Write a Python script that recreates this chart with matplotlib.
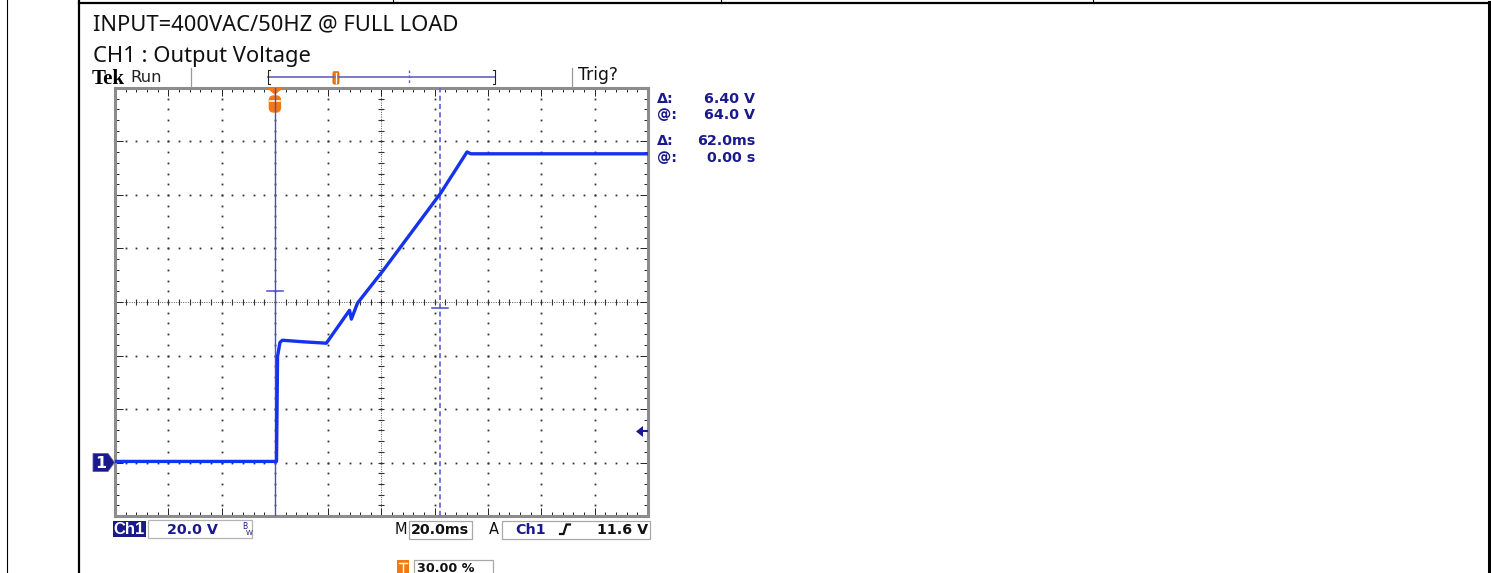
import numpy as np
import matplotlib
matplotlib.use("Agg")
import matplotlib.pyplot as plt
from matplotlib.patches import Rectangle, Polygon, FancyBboxPatch
from matplotlib.ticker import MultipleLocator

W, H, DPI = 1491, 573, 100

# Test conditions and scope settings
title_lines = ["INPUT=400VAC/50HZ @ FULL LOAD", "CH1 : Output Voltage"]
volts_per_div = 20.0        # V / div
time_per_div = 20.0         # ms / div
h_divs, v_divs = 10, 8
trigger_pos_pct = 30.0      # % of record before trigger
ground_div = -3.0           # channel 1 ground, divisions from centre
trigger_level = 11.6        # V
cursor_t = [0.0, 62.0]      # ms
cursor_v = [64.0, 57.6]     # V

# Channel 1 output voltage trace
trace_t = [-60.0, 0.6, 1.0, 1.9, 2.8, 11.0, 19.3, 28.0, 28.7, 31.0, 40.4, 62.2, 72.1, 73.5, 140.0]
trace_v = [0.4, 0.4, 39.7, 44.9, 45.7, 45.1, 44.6, 56.9, 53.6, 59.6, 71.5, 100.7, 116.1, 115.4, 115.4]

# Colours
TRACE = "#1532ec"
CURSOR = "#4a4ad2"
CURSOR2 = "#6a6ad8"
NAVY = "#1a1a8c"
ORANGE = "#f07a10"

fig = plt.figure(figsize=(W / DPI, H / DPI), dpi=DPI)
fig.patch.set_facecolor("white")

# graticule box in pixels
L, T, R, B = 115, 88, 648, 516
tmin = -trigger_pos_pct / 100 * h_divs * time_per_div
tmax = tmin + h_divs * time_per_div
vmin = (-v_divs / 2 - ground_div) * volts_per_div
vmax = vmin + v_divs * volts_per_div


def t2x(t):
    return L + (t - tmin) / (tmax - tmin) * (R - L)


def v2y(v):
    return T + (vmax - v) / (vmax - vmin) * (B - T)


def x2t(x):
    return tmin + (x - L) / (R - L) * (tmax - tmin)


def y2v(y):
    return vmax - (y - T) / (B - T) * (vmax - vmin)


ax = fig.add_axes([L / W, 1 - B / H, (R - L) / W, (B - T) / H])
ax.set_zorder(1)
ax.set_xlim(tmin, tmax)
ax.set_ylim(vmin, vmax)
for s in ax.spines.values():
    s.set_color("#8c8c8c")
    s.set_linewidth(2.2)
ax.xaxis.set_major_locator(MultipleLocator(time_per_div))
ax.xaxis.set_minor_locator(MultipleLocator(time_per_div / 5))
ax.yaxis.set_major_locator(MultipleLocator(volts_per_div))
ax.yaxis.set_minor_locator(MultipleLocator(volts_per_div / 5))
ax.tick_params(which="both", direction="in", top=True, right=True,
               labelbottom=False, labelleft=False, color="#222", width=0.7)
ax.tick_params(which="major", length=5.5)
ax.tick_params(which="minor", length=3)

# dotted graticule
major_t = np.arange(tmin, tmax + 1e-9, time_per_div)[1:-1]
major_v = np.arange(vmin, vmax + 1e-9, volts_per_div)[1:-1]
minor_t = np.arange(tmin, tmax + 1e-9, time_per_div / 5)[1:-1]
minor_v = np.arange(vmin, vmax + 1e-9, volts_per_div / 5)[1:-1]
t_c = (tmin + tmax) / 2
v_c = (vmin + vmax) / 2
for tk in major_t:
    if abs(tk - t_c) > 1e-6:
        ax.plot(np.full_like(minor_v, tk), minor_v, ls="none", marker="s",
                ms=1.3, mew=0, color="#333", zorder=1)
for vk in major_v:
    if abs(vk - v_c) > 1e-6:
        ax.plot(minor_t, np.full_like(minor_t, vk), ls="none", marker="s",
                ms=1.3, mew=0, color="#333", zorder=1)

# centre cross-hair with sub-division ticks
ax.plot([t_c, t_c], [vmin, vmax], ls=(0, (1, 1.4)), lw=0.7, color="#555", zorder=1)
ax.plot([tmin, tmax], [v_c, v_c], ls=(0, (1, 1.4)), lw=0.7, color="#555", zorder=1)
ax.plot(np.full_like(minor_v, t_c), minor_v, ls="none", marker="_", ms=4.5,
        mew=0.8, color="#333", zorder=1)
ax.plot(minor_t, np.full_like(minor_t, v_c), ls="none", marker="|", ms=4.5,
        mew=0.8, color="#333", zorder=1)

# trigger position marker at the top of the graticule
tx = t2x(0.0)
tri = [(x2t(tx - 7), y2v(88)), (x2t(tx + 7), y2v(88)), (x2t(tx), y2v(94))]
ax.add_patch(Polygon(tri, closed=True, color=ORANGE, clip_on=False, zorder=3))
ax.add_patch(FancyBboxPatch((x2t(tx - 5.5), y2v(112)), x2t(tx + 5.5) - x2t(tx - 5.5),
                            y2v(96) - y2v(112),
                            boxstyle="round,pad=0,rounding_size=1.6",
                            color=ORANGE, clip_on=False, zorder=3))
ax.plot([x2t(tx - 5), x2t(tx + 5)], [y2v(100.5)] * 2, color="white", lw=1.2, zorder=3.5)

# cursors
ax.axvline(cursor_t[0], color=CURSOR, lw=1.0, zorder=4)
ax.axvline(cursor_t[1], color=CURSOR2, lw=1.3, ls=(0, (2.8, 1.8)), zorder=4)
half = x2t(L + 8) - x2t(L)
for ct, cv in zip(cursor_t, cursor_v):
    ax.plot([ct - half, ct + half], [cv, cv], color=CURSOR, lw=1.1, zorder=4)

# waveform
ax.plot(trace_t, trace_v, color=TRACE, lw=2.4, solid_joinstyle="round", zorder=5)

# ---- screen furniture around the graticule ----
ov = fig.add_axes([0, 0, 1, 1])
ov.set_xlim(0, W)
ov.set_ylim(H, 0)
ov.axis("off")
ov.set_zorder(2)

# document table borders
ov.plot([7, 7], [0, H], color="black", lw=0.8)
ov.plot([79, 79], [0, H], color="black", lw=1.6)
ov.plot([79, 1490], [2.5, 2.5], color="black", lw=1.6)
for xs in (393, 721, 1093):
    ov.plot([xs, xs], [0, 3], color="black", lw=0.8)
ov.plot([1489, 1489], [2, H], color="black", lw=2.2)

# heading text
sans = ["Noto Sans", "DejaVu Sans"]
ov.text(93, 30, title_lines[0], family=sans, fontsize=15.8, color="#111", va="baseline")
ov.text(93, 62, title_lines[1], family=sans, fontsize=15.8, color="#111", va="baseline")

# status bar
ov.text(92, 83.5, "Tek", family="Liberation Serif", weight="bold", fontsize=15,
        color="black", va="baseline")
ov.text(130, 82, "Run", family="DejaVu Sans", fontsize=11.8, color="#222", va="baseline")
ov.plot([191, 191], [68, 87], color="#999", lw=0.9)
ov.plot([572, 572], [68, 87], color="#999", lw=0.9)
ov.text(578, 80.5, "Trig?", family="DejaVu Sans", fontsize=12.3, color="#111", va="baseline")

# record view bracket
ov.plot([268, 495], [77, 77], color="#6262c8", lw=1.2)
ov.plot([270, 268, 268, 270], [70, 70, 84, 84], color="#222", lw=0.8)
ov.plot([493, 495, 495, 493], [70, 70, 84, 84], color="#222", lw=0.8)
ov.plot([409, 409], [70, 84], color="#6262c8", lw=1.0, ls=(0, (2, 1.5)))
ov.add_patch(FancyBboxPatch((333, 72), 6, 12, boxstyle="round,pad=0,rounding_size=1.5",
                            facecolor=ORANGE, edgecolor="#c05a00", lw=0.6))
ov.plot([336, 336], [73, 83], color="white", lw=0.9)
ov.plot([334, 338], [72, 72], color=ORANGE, lw=1.2)

# channel 1 ground marker
gy = v2y(0.0)
ov.add_patch(Polygon([(93, gy - 9), (108, gy - 9), (114.5, gy), (108, gy + 9), (93, gy + 9)],
                     closed=True, facecolor=NAVY, edgecolor="#5a5ab0", lw=0.6))
ov.text(100.5, gy + 0.5, "1", family="DejaVu Sans", weight="bold", fontsize=11.5,
        color="white", ha="center", va="center")

# trigger level arrow on the right edge
ly = v2y(trigger_level)
ov.add_patch(Polygon([(636, ly), (643, ly - 5.5), (643, ly + 5.5)], closed=True,
                     facecolor=NAVY, edgecolor="none"))
ov.plot([643, 647], [ly, ly], color=NAVY, lw=1.5)

# cursor readouts
mono = dict(family="DejaVu Sans", weight="bold", fontsize=10.3, color=NAVY, va="baseline")
readouts = [
    ("\u0394:", f"{abs(cursor_v[0] - cursor_v[1]):.2f} V", 102.7),
    ("@:", f"{cursor_v[0]:.1f} V", 119.0),
    ("\u0394:", f"{cursor_t[1] - cursor_t[0]:.1f}ms", 145.0),
    ("@:", f"{cursor_t[0] / 1000:.2f} s", 161.7),
]
for lab, val, yb in readouts:
    ov.text(657, yb, lab, **mono)
    ov.text(755, yb, val, ha="right", **mono)

# bottom settings bar
ov.add_patch(Rectangle((113, 520.5), 33, 16.5, facecolor=NAVY, edgecolor="none"))
ov.text(129.5, 534.5, "Ch1", family="Liberation Sans", weight="bold", fontsize=12,
        color="white", ha="center", va="baseline")
ov.add_patch(Rectangle((148, 519.5), 104, 18.5, facecolor="none", edgecolor="#b4b4b4", lw=0.9))
ov.text(167, 534.5, f"{volts_per_div:.1f} V", **mono)
ov.text(242.5, 529, "B", family="DejaVu Sans", fontsize=5.5, color=NAVY, va="baseline")
ov.text(246, 535, "W", family="DejaVu Sans", fontsize=5, color=NAVY, va="baseline")

blk = dict(family="DejaVu Sans", weight="bold", fontsize=10.3, color="#111", va="baseline")
ov.text(395, 534.5, "M", family="DejaVu Sans", fontsize=10.5, color="#111", va="baseline")
ov.add_patch(Rectangle((409, 520.5), 63, 18.5, facecolor="none", edgecolor="#a8a8a8", lw=0.9))
ov.text(411, 534.5, f"{time_per_div:.1f}ms", **blk)
ov.text(489, 534.5, "A", family="DejaVu Sans", fontsize=10.5, color="#111", va="baseline")
ov.add_patch(Rectangle((502, 520.5), 148, 18.5, facecolor="none", edgecolor="#a8a8a8", lw=0.9))
ov.text(515, 534.5, "Ch1", **mono)
ov.plot([560, 563.5, 566.5, 570], [534, 534, 524.5, 524.5], color="#111", lw=1.6,
        solid_joinstyle="miter")
ov.text(648, 534.5, f"{trigger_level:.1f} V", ha="right", **blk)

# trigger position readout along the bottom edge
ov.add_patch(Rectangle((397, 560), 12, 14, facecolor=ORANGE, edgecolor="none"))
ov.plot([399, 407], [563, 563], color="white", lw=1.0)
ov.plot([403, 403], [563, 573], color="white", lw=1.0)
ov.add_patch(Rectangle((414, 560), 79, 20, facecolor="none", edgecolor="#a8a8a8", lw=0.9))
ov.text(417, 571.5, f"{trigger_pos_pct:.2f} %", family="DejaVu Sans", weight="bold",
        fontsize=9.2, color="#111", va="baseline")

fig.savefig("out.png", dpi=DPI, facecolor="white")
